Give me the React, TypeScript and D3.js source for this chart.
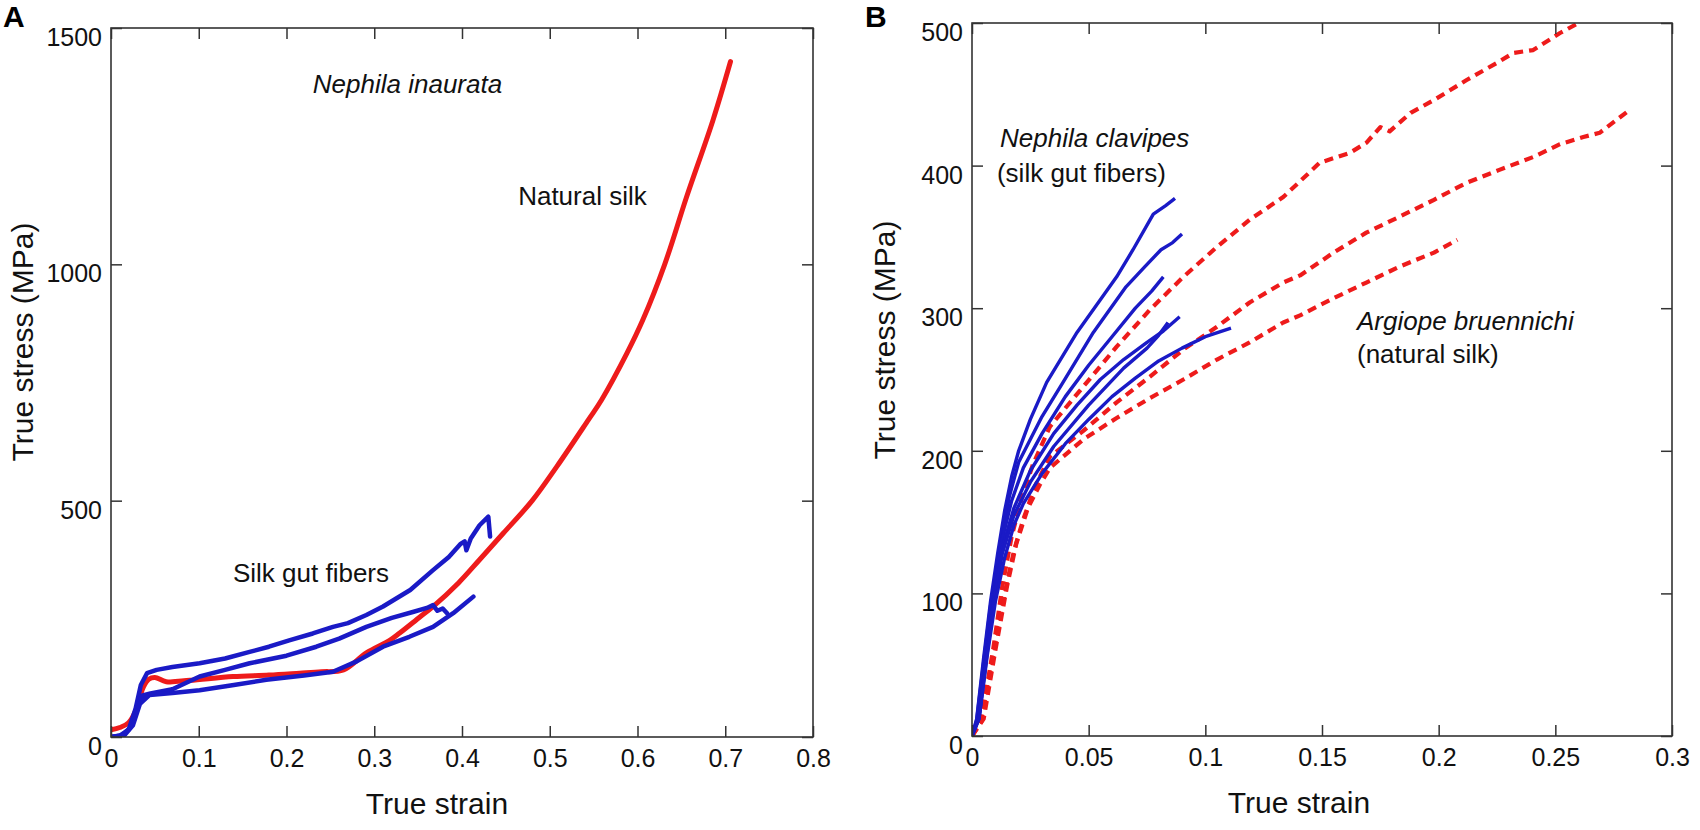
import * as d3 from 'd3';
import * as React from 'react';
import { useEffect, useRef } from 'react';

type Pt = [number, number];

// ---- panel A : Nephila inaurata (strain, stress MPa)
const xTicksA = [0, 0.1, 0.2, 0.3, 0.4, 0.5, 0.6, 0.7, 0.8];
const yTicksA = [0, 500, 1000, 1500];

const naturalSilkA: Pt[] = [
  [0, 15], [0.01, 20], [0.02, 30], [0.028, 55], [0.033, 85], [0.037, 106], [0.043, 122],
  [0.05, 126], [0.063, 117], [0.09, 120], [0.139, 128], [0.18, 131], [0.215, 135],
  [0.24, 138], [0.265, 142], [0.291, 178], [0.318, 205], [0.329, 220], [0.352, 254],
  [0.367, 276], [0.396, 326], [0.42, 375], [0.447, 431], [0.48, 500], [0.508, 572],
  [0.544, 671], [0.559, 713], [0.588, 812], [0.606, 882], [0.631, 1000], [0.656, 1143],
  [0.686, 1305], [0.706, 1429],
];

const gutFiberA1: Pt[] = [
  [0, 0], [0.01, 3], [0.02, 15], [0.028, 60], [0.034, 110], [0.041, 135], [0.052, 142],
  [0.07, 148], [0.101, 156], [0.13, 166], [0.158, 180], [0.18, 191], [0.204, 205],
  [0.23, 219], [0.253, 233], [0.27, 241], [0.291, 258], [0.31, 276], [0.341, 311],
  [0.367, 353], [0.385, 381], [0.398, 408], [0.403, 414], [0.405, 395], [0.41, 420],
  [0.42, 448], [0.43, 466], [0.432, 424],
];

const gutFiberA2: Pt[] = [
  [0, 0], [0.012, 3], [0.022, 20], [0.03, 65], [0.036, 88], [0.045, 92], [0.07, 101],
  [0.101, 128], [0.13, 142], [0.158, 156], [0.2, 172], [0.234, 191], [0.26, 208],
  [0.291, 233], [0.32, 252], [0.345, 265], [0.36, 273], [0.367, 279], [0.372, 267],
  [0.378, 272], [0.383, 262],
];

const gutFiberA3: Pt[] = [
  [0, 0], [0.015, 3], [0.025, 25], [0.033, 70], [0.044, 89], [0.07, 93], [0.101, 99],
  [0.14, 110], [0.177, 121], [0.22, 130], [0.253, 138], [0.28, 160], [0.31, 191],
  [0.34, 212], [0.367, 233], [0.39, 262], [0.413, 297],
];

// ---- panel B : Nephila clavipes gut fibers vs Argiope bruennichi natural silk
const xTicksB = [0, 0.05, 0.1, 0.15, 0.2, 0.25, 0.3];
const yTicksB = [0, 100, 200, 300, 400, 500];

const gutFibersB: Pt[][] = [
  [[0, 0], [0.002, 12], [0.005, 55], [0.008, 95], [0.011, 128], [0.014, 158], [0.017, 182],
    [0.02, 200], [0.025, 222], [0.032, 248], [0.045, 283], [0.055, 306], [0.062, 322],
    [0.069, 341], [0.0777, 366], [0.083, 372], [0.087, 377]],
  [[0, 0], [0.002, 11], [0.005, 52], [0.008, 92], [0.012, 130], [0.016, 168], [0.02, 192],
    [0.03, 224], [0.039, 248], [0.052, 283], [0.066, 315], [0.074, 329], [0.081, 341],
    [0.086, 346], [0.09, 352]],
  [[0, 0], [0.003, 14], [0.0065, 62], [0.01, 108], [0.013, 138], [0.017, 165], [0.022, 188],
    [0.03, 212], [0.04, 238], [0.05, 260], [0.06, 280], [0.07, 300], [0.077, 312],
    [0.082, 322]],
  [[0, 0], [0.003, 13], [0.0065, 60], [0.01, 104], [0.013, 132], [0.018, 160], [0.025, 186],
    [0.035, 212], [0.045, 232], [0.055, 250], [0.065, 264], [0.075, 276], [0.082, 284],
    [0.089, 294]],
  [[0, 0], [0.003, 12], [0.0065, 58], [0.01, 100], [0.013, 128], [0.018, 155], [0.025, 178],
    [0.035, 203], [0.05, 232], [0.065, 258], [0.075, 272], [0.08, 281], [0.084, 290]],
  [[0, 0], [0.003, 12], [0.0065, 56], [0.01, 94], [0.014, 125], [0.018, 148], [0.022, 163],
    [0.03, 184], [0.04, 205], [0.05, 222], [0.06, 238], [0.07, 251], [0.08, 263],
    [0.09, 272], [0.1, 280], [0.111, 286]],
];

const naturalSilkB: Pt[][] = [
  [[0, 0], [0.004, 12], [0.009, 60], [0.013, 105], [0.017, 140], [0.021, 165], [0.026, 190],
    [0.0334, 217], [0.0477, 245], [0.062, 273], [0.0763, 299], [0.0906, 322], [0.105, 343],
    [0.119, 362], [0.1334, 378], [0.1406, 389], [0.149, 402], [0.162, 409], [0.169, 416],
    [0.175, 427], [0.179, 424], [0.188, 437], [0.198, 446], [0.212, 460], [0.226, 473],
    [0.232, 479], [0.2405, 481], [0.252, 493], [0.26, 500]],
  [[0, 0], [0.004, 10], [0.009, 55], [0.014, 100], [0.018, 130], [0.022, 152], [0.027, 175],
    [0.0334, 196], [0.0477, 214], [0.062, 234], [0.0763, 252], [0.0906, 271], [0.105, 287],
    [0.119, 304], [0.1334, 318], [0.1406, 323], [0.155, 339], [0.169, 353], [0.183, 364],
    [0.198, 376], [0.212, 388], [0.226, 397], [0.2405, 406], [0.252, 415], [0.262, 420],
    [0.269, 423], [0.281, 438]],
  [[0, 0], [0.005, 12], [0.01, 60], [0.015, 105], [0.019, 135], [0.024, 160], [0.029, 176],
    [0.0334, 188], [0.0477, 208], [0.062, 223], [0.0763, 237], [0.0906, 250], [0.105, 264],
    [0.119, 276], [0.1334, 290], [0.1406, 295], [0.155, 307], [0.169, 318], [0.183, 329],
    [0.198, 339], [0.208, 348]],
];

const FONT = '"Liberation Sans", Arial, Helvetica, sans-serif';
const AXIS = '#333';
const BLUE = '#1a1ac6';
const RED = '#ee1b1b';

interface IAxesProps {
  x: d3.ScaleLinear<number, number>;
  y: d3.ScaleLinear<number, number>;
  xTicks: number[];
  yTicks: number[];
}

function Axes({ x, y, xTicks, yTicks }: IAxesProps) {
  const ref = useRef<SVGGElement>(null);

  useEffect(() => {
    const g = d3.select(ref.current);
    g.selectAll('*').remove();
    const [xl, xr] = x.range();
    const [yb, yt] = y.range();
    const fmt = d3.format('~g');
    const none = () => '';

    g.append('g').attr('transform', `translate(0,${yb})`)
      .call(d3.axisBottom(x).tickValues(xTicks).tickFormat(fmt)
        .tickSize(-11).tickSizeOuter(0).tickPadding(12));
    g.append('g').attr('transform', `translate(0,${yt})`)
      .call(d3.axisTop(x).tickValues(xTicks).tickFormat(none).tickSize(-11).tickSizeOuter(0));
    const left = g.append('g').attr('transform', `translate(${xl},0)`)
      .call(d3.axisLeft(y).tickValues(yTicks).tickFormat(fmt)
        .tickSize(-11).tickSizeOuter(0).tickPadding(9));
    g.append('g').attr('transform', `translate(${xr},0)`)
      .call(d3.axisRight(y).tickValues(yTicks).tickFormat(none).tickSize(-11).tickSizeOuter(0));

    left.selectAll('.tick text').attr('dy', '0.7em');
    g.selectAll('.domain').remove();
    g.selectAll('.tick line').attr('stroke', AXIS).attr('stroke-width', 1.5);
    g.selectAll('.tick text')
      .attr('font-family', FONT).attr('font-size', 25).attr('fill', '#111');

    g.append('rect')
      .attr('x', xl).attr('y', yt).attr('width', xr - xl).attr('height', yb - yt)
      .attr('fill', 'none').attr('stroke', AXIS).attr('stroke-width', 1.6);
  }, [x, y, xTicks, yTicks]);

  return <g ref={ref} />;
}

function PanelA() {
  const x = d3.scaleLinear().domain([0, 0.8]).range([111, 813]);
  const y = d3.scaleLinear().domain([0, 1500]).range([737, 28]);
  const line = d3.line<Pt>().x(d => x(d[0])).y(d => y(d[1]));
  const smooth = d3.line<Pt>().x(d => x(d[0])).y(d => y(d[1])).curve(d3.curveCatmullRom);
  const fibers = [gutFiberA1, gutFiberA2, gutFiberA3];
  const label = { fontFamily: FONT, fontSize: 26, fill: '#111' };

  return (
    <g>
      <defs>
        <clipPath id='clipA'><rect x={111} y={28} width={702} height={709} /></clipPath>
      </defs>
      <g clipPath='url(#clipA)' fill='none' strokeLinejoin='round' strokeLinecap='round'>
        <path d={smooth(naturalSilkA) || ''} stroke={RED} strokeWidth={5} />
        {fibers.map((f, i) => (
          <path key={i} d={line(f) || ''} stroke={BLUE} strokeWidth={4.5} />
        ))}
      </g>
      <Axes x={x} y={y} xTicks={xTicksA} yTicks={yTicksA} />
      <text x={3} y={27} fontFamily={FONT} fontSize={30} fontWeight='bold'>A</text>
      <text x={x(0.23)} y={y(1362)} {...label} fontStyle='italic'>Nephila inaurata</text>
      <text x={x(0.464)} y={y(1126)} {...label}>Natural silk</text>
      <text x={x(0.139)} y={y(328)} {...label}>Silk gut fibers</text>
      <text x={437} y={814} fontFamily={FONT} fontSize={30} textAnchor='middle' fill='#111'>True strain</text>
      <text transform='translate(33,342) rotate(-90)' fontFamily={FONT} fontSize={30}
        textAnchor='middle' fill='#111'>True stress (MPa)</text>
    </g>
  );
}

function PanelB() {
  const x = d3.scaleLinear().domain([0, 0.3]).range([972, 1672]);
  const y = d3.scaleLinear().domain([0, 500]).range([736, 23]);
  const line = d3.line<Pt>().x(d => x(d[0])).y(d => y(d[1]));
  const label = { fontFamily: FONT, fontSize: 26, fill: '#111' };

  return (
    <g>
      <defs>
        <clipPath id='clipB'><rect x={972} y={23} width={700} height={713} /></clipPath>
      </defs>
      <g clipPath='url(#clipB)' fill='none' strokeLinejoin='round'>
        {naturalSilkB.map((c, i) => (
          <path key={'r' + i} d={line(c) || ''} stroke={RED} strokeWidth={4.2}
            strokeDasharray='9 6' />
        ))}
        {gutFibersB.map((c, i) => (
          <path key={'b' + i} d={line(c) || ''} stroke={BLUE} strokeWidth={3.4} />
        ))}
      </g>
      <Axes x={x} y={y} xTicks={xTicksB} yTicks={yTicksB} />
      <text x={865} y={27} fontFamily={FONT} fontSize={30} fontWeight='bold'>B</text>
      <text x={x(0.012)} y={y(413)} {...label} fontStyle='italic'>Nephila clavipes</text>
      <text x={x(0.0107)} y={y(388.6)} {...label}>(silk gut fibers)</text>
      <text x={x(0.165)} y={y(284.8)} {...label} fontStyle='italic'>Argiope bruennichi</text>
      <text x={x(0.165)} y={y(261.6)} {...label}>(natural silk)</text>
      <text x={1299} y={813} fontFamily={FONT} fontSize={30} textAnchor='middle' fill='#111'>True strain</text>
      <text transform='translate(895,340) rotate(-90)' fontFamily={FONT} fontSize={30}
        textAnchor='middle' fill='#111'>True stress (MPa)</text>
    </g>
  );
}

export default function App() {
  return (
    <svg width={1700} height={830} viewBox='0 0 1700 830'
      style={{ position: 'absolute', left: 0, top: 0, background: '#fff' }}>
      <PanelA />
      <PanelB />
    </svg>
  );
}
